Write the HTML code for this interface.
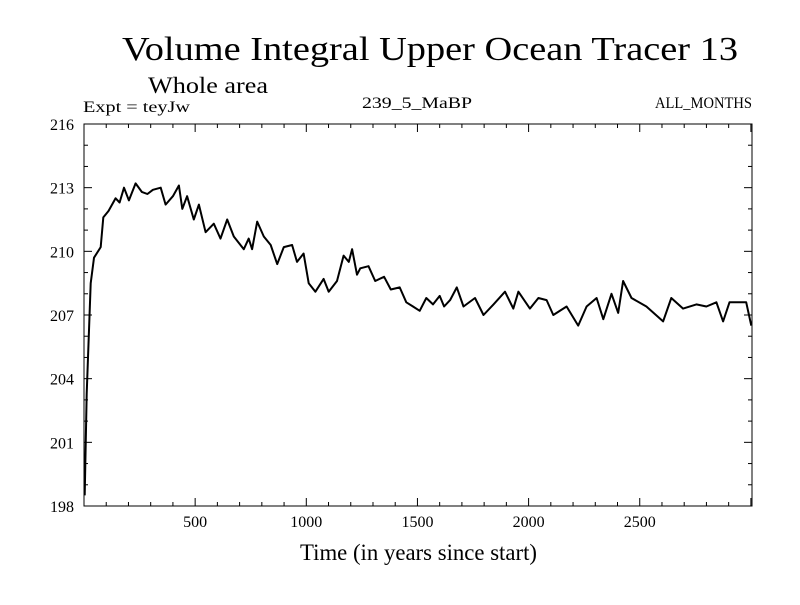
<!DOCTYPE html>
<html><head><meta charset="utf-8"><style>
body{margin:0;background:#fff;}
svg text{font-family:"Liberation Serif",serif;fill:#000;}
</style></head><body>
<svg id="chart" width="800" height="600" xmlns="http://www.w3.org/2000/svg">
<rect width="800" height="600" fill="#fff"/>
<text x="122" y="60" font-size="34" textLength="616" lengthAdjust="spacingAndGlyphs">Volume Integral Upper Ocean Tracer 13</text>
<text x="148" y="93" font-size="23" textLength="120" lengthAdjust="spacingAndGlyphs">Whole area</text>
<text x="83" y="112" font-size="16" textLength="107" lengthAdjust="spacingAndGlyphs">Expt = teyJw</text>
<text x="362" y="108" font-size="16" textLength="110" lengthAdjust="spacingAndGlyphs">239_5_MaBP</text>
<text x="655" y="108" font-size="16" textLength="97" lengthAdjust="spacingAndGlyphs">ALL_MONTHS</text>
<text x="300" y="560" font-size="23" textLength="237" lengthAdjust="spacingAndGlyphs">Time (in years since start)</text>
<g id="axes"></g>
<g id="series"></g>
</svg>
<script>
const years=[3,12,30,45,75,87,110,142,160,180,202,232,260,285,310,345,367,400,427,442,464,494,517,547,584,614,644,674,719,741,756,779,809,840,869,899,936,958,988,1011,1041,1078,1101,1138,1168,1191,1206,1228,1243,1280,1310,1350,1380,1420,1450,1480,1510,1540,1570,1600,1620,1647,1677,1707,1759,1797,1842,1894,1931,1954,2006,2044,2081,2111,2171,2223,2261,2306,2336,2373,2403,2425,2463,2530,2605,2642,2695,2755,2800,2845,2875,2904,2949,2979,3002];
const values=[198.5,203.3,208.5,209.7,210.2,211.6,211.9,212.5,212.3,213,212.4,213.2,212.8,212.7,212.9,213,212.2,212.6,213.1,212,212.6,211.5,212.2,210.9,211.3,210.6,211.5,210.7,210.1,210.6,210.1,211.4,210.7,210.3,209.4,210.2,210.3,209.5,209.9,208.5,208.1,208.7,208.1,208.6,209.8,209.5,210.1,208.9,209.2,209.3,208.6,208.8,208.2,208.3,207.6,207.4,207.2,207.8,207.5,207.9,207.4,207.7,208.3,207.4,207.8,207,207.5,208.1,207.3,208.1,207.3,207.8,207.7,207,207.4,206.5,207.4,207.8,206.8,208,207.1,208.6,207.8,207.4,206.7,207.8,207.3,207.5,207.4,207.6,206.7,207.6,207.6,207.6,206.5];
const xTicks=[500,1000,1500,2000,2500];
const yTicks=[198,201,204,207,210,213,216];
const X0=0,X1=3005,Y0=198,Y1=216;
const L=84,R=752,T=124,B=506;
const sx=v=>L+(v-X0)/(X1-X0)*(R-L);
const sy=v=>B-(v-Y0)/(Y1-Y0)*(B-T);
const NS="http://www.w3.org/2000/svg";
const axes=document.getElementById('axes');
function mk(tag,attrs,parent){const e=document.createElementNS(NS,tag);for(const k in attrs)e.setAttribute(k,attrs[k]);parent.appendChild(e);return e;}
const frame=mk('rect',{x:L,y:T,width:R-L,height:B-T,fill:'none',stroke:'#000','stroke-width':1},axes);


for(let v=100;v<X1;v+=100){const big=v%500===0;const len=big?8:4;
 const t1=mk('line',{x1:sx(v),x2:sx(v),y1:B,y2:B-len,stroke:'#000'},axes);
 
 
 const t2=mk('line',{x1:sx(v),x2:sx(v),y1:T,y2:T+len,stroke:'#000'},axes);
 
 }
xTicks.forEach(v=>{const t=mk('text',{x:sx(v),y:B+21,'font-size':16,'text-anchor':'middle'},axes);t.textContent=v;
 
 });
for(let v=Y0+1;v<Y1;v++){const big=(v-Y0)%3===0;const len=big?8:4;
 const t1=mk('line',{x1:L,x2:L+len,y1:sy(v),y2:sy(v),stroke:'#000'},axes);
 
 
 const t2=mk('line',{x1:R,x2:R-len,y1:sy(v),y2:sy(v),stroke:'#000'},axes);
 
 }
yTicks.forEach(v=>{const t=mk('text',{x:L-10,y:sy(v)+6,'font-size':16,'text-anchor':'end'},axes);t.textContent=v;
 
 });
const d=years.map((y,i)=>(i?'L':'M')+sx(y).toFixed(1)+','+sy(values[i]).toFixed(1)).join('');
const p=mk('path',{d:d,fill:'none',stroke:'#000','stroke-width':2,'stroke-linejoin':'round'},document.getElementById('series'));


</script>
</body></html>
